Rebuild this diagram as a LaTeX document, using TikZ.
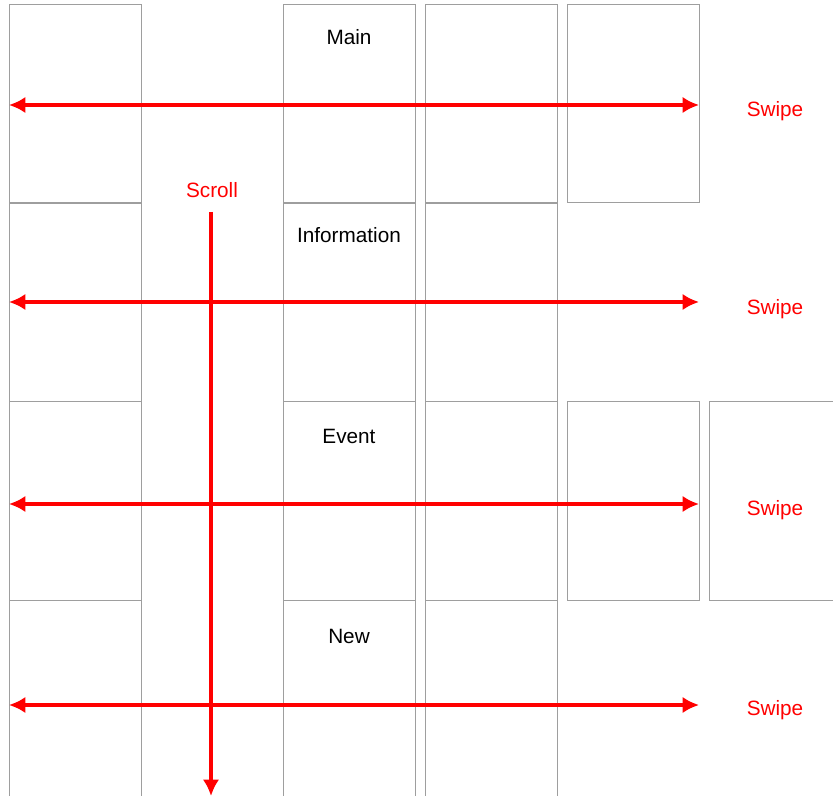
\documentclass[tikz,border=0pt]{standalone}
\usepackage{fontspec}
\setmainfont{Liberation Sans}
\usetikzlibrary{arrows.meta}

\begin{document}
\begin{tikzpicture}[%
        x=0.03cm, y=-0.03cm,
        screen/.style={rectangle, draw=black!38, line width=0.6pt, minimum width=3.96cm, minimum height=5.96cm, inner sep=0pt, outer sep=0pt},
        title/.style={font=\fontsize{17.7pt}{20pt}\selectfont, text=black},
        hint/.style={font=\fontsize{17.7pt}{20pt}\selectfont, text=red},
        swipe/.style={draw=red, line width=2.6pt, {Latex[length=14pt, width=14pt]}-{Latex[length=14pt, width=14pt]}},
        scrolling/.style={draw=red, line width=2.6pt, -{Latex[length=14pt, width=14pt]}}]
        \useasboundingbox (0,0) rectangle (833,796);
        \clip (0,0) rectangle (833,796);

        % Screens
        \node [screen] (a1) at (75,103.5) {};
        \node [screen] (a2) at (75,302.2) {};
        \node [screen] (a3) at (75,500.9) {};
        \node [screen] (a4) at (75,699.6) {};
        \node [screen] (c1) at (349,103.5) {};
        \node [screen] (c2) at (349,302.2) {};
        \node [screen] (c3) at (349,500.9) {};
        \node [screen] (c4) at (349,699.6) {};
        \node [screen] (d1) at (491,103.5) {};
        \node [screen] (d2) at (491,302.2) {};
        \node [screen] (d3) at (491,500.9) {};
        \node [screen] (d4) at (491,699.6) {};
        \node [screen] (e1) at (633,103.5) {};
        \node [screen] (e3) at (633,500.9) {};
        \node [screen] (f3) at (775,500.9) {};

        % Titles
        \node [title] (main) at (349,37) {Main};
        \node [title] (info) at (349,235) {Information};
        \node [title] (event) at (349,436) {Event};
        \node [title] (new) at (349,636) {New};

        % Gestures
        \node [hint] (sw1) at (775,111) {Swipe};
        \node [hint] (sw2) at (775,309) {Swipe};
        \node [hint] (sw3) at (775,510) {Swipe};
        \node [hint] (sw4) at (775,710) {Swipe};
        \node [hint] (scroll) at (212,190) {Scroll};

        % Arrows
        \draw[swipe] (a1.west |- 0,105) -- (e1.east |- 0,105);
        \draw[swipe] (a2.west |- 0,302) -- (e1.east |- 0,302);
        \draw[swipe] (a3.west |- 0,504) -- (e3.east |- 0,504);
        \draw[swipe] (a4.west |- 0,705) -- (e3.east |- 0,705);
        \draw[scrolling] (scroll.south -| 211,0) ++(0,10) -- (211,796);
    \end{tikzpicture}
\end{document}
